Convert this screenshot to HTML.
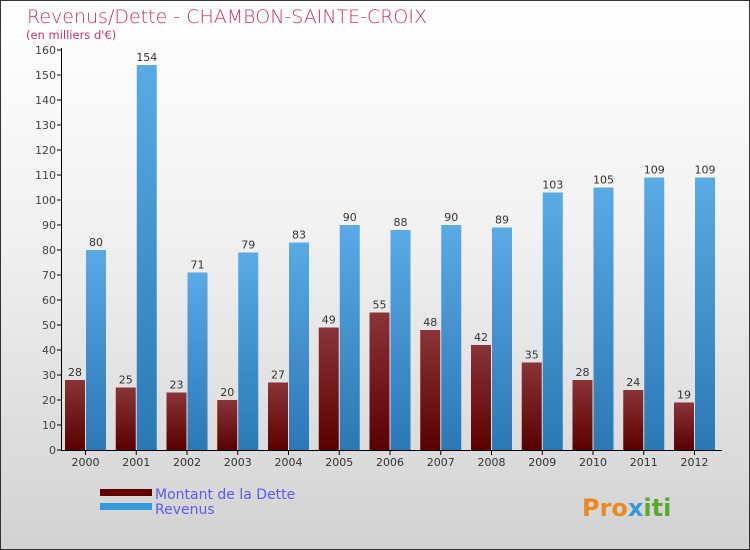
<!DOCTYPE html>
<html><head><meta charset="utf-8"><style>
body{margin:0}
#c{width:750px;height:550px;position:relative;box-sizing:border-box;border:1px solid #333;background:linear-gradient(#fff 0%,#f2f2f2 40%,#d2d2d2 100%);font-family:"DejaVu Sans","Liberation Sans",sans-serif;overflow:hidden}
</style></head><body>
<div id="c">
<svg width="750" height="550" style="position:absolute;left:-1px;top:-1px">
<defs>
<linearGradient id="gd" x1="0" y1="0" x2="0" y2="1"><stop offset="0" stop-color="#8a3438"/><stop offset="1" stop-color="#5a0000"/></linearGradient>
<linearGradient id="gr" x1="0" y1="0" x2="0" y2="1"><stop offset="0" stop-color="#5aaae6"/><stop offset="1" stop-color="#2a78b4"/></linearGradient>
</defs>
<text x="27" y="23" font-size="19" fill="#c8336a" font-family="DejaVu Sans" font-weight="200">Revenus/Dette - CHAMBON-SAINTE-CROIX</text>
<text x="26" y="39" font-size="11.5" fill="#c8336a">(en milliers d'€)</text>
<g id="g"></g>
<text x="155" y="499" font-size="14" fill="#5a5aee">Montant de la Dette</text>
<text x="155" y="514" font-size="14" fill="#5a5aee">Revenus</text>
<rect x="100" y="489" width="52" height="7" fill="#600000"/>
<rect x="100" y="503" width="52" height="7" fill="#3399dd"/>
<text x="582" y="516" font-size="24" font-weight="bold" fill="#e88a20">Pro<tspan fill="#3399dd">x</tspan><tspan fill="#5aaa30">iti</tspan></text>
</svg>
</div>
<script>
const years=["2000","2001","2002","2003","2004","2005","2006","2007","2008","2009","2010","2011","2012"];
const dette=[28,25,23,20,27,49,55,48,42,35,28,24,19];
const revenus=[80,154,71,79,83,90,88,90,89,103,105,109,109];
const ticks=[0,10,20,30,40,50,60,70,80,90,100,110,120,130,140,150,160];
const NS="http://www.w3.org/2000/svg";
const g=document.getElementById('g');
const y=v=>450-v*2.5;
const x0=i=>65+i*50.75;
function mk(t,a){const e=document.createElementNS(NS,t);for(const k in a)e.setAttribute(k,a[k]);g.appendChild(e);return e;}
ticks.forEach(t=>{
 const l=mk('line',{x1:57,x2:62,y1:y(t),y2:y(t),stroke:'#000'});
 
 
 const tx=mk('text',{x:56,y:y(t)+4,'text-anchor':'end','font-size':11,fill:'#444'});tx.textContent=t;
 
 
});
years.forEach((yr,i)=>{
 const bx=x0(i);
 const d=mk('rect',{x:bx,y:y(dette[i]),width:20,height:dette[i]*2.5,fill:'url(#gd)'});
 
 
 const r=mk('rect',{x:bx+21,y:y(revenus[i]),width:20,height:revenus[i]*2.5,fill:'url(#gr)'});
 
 
 const t1=mk('text',{x:bx+10,y:y(dette[i])-4,'text-anchor':'middle','font-size':11,fill:'#333'});t1.textContent=dette[i];
 
 
 const t2=mk('text',{x:bx+31,y:y(revenus[i])-4,'text-anchor':'middle','font-size':11,fill:'#333'});t2.textContent=revenus[i];
 
 
 const tk=mk('line',{x1:bx+20.5,x2:bx+20.5,y1:450,y2:455,stroke:'#000'});
 
 
 const xl=mk('text',{x:bx+20.5,y:466,'text-anchor':'middle','font-size':11,fill:'#333'});xl.textContent=yr;
 
 
});
const ya=mk('line',{x1:61.5,x2:61.5,y1:48,y2:451,stroke:'#000'});


const xa=mk('line',{x1:61,x2:722,y1:450.5,y2:450.5,stroke:'#000'});


</script>
</body></html>
